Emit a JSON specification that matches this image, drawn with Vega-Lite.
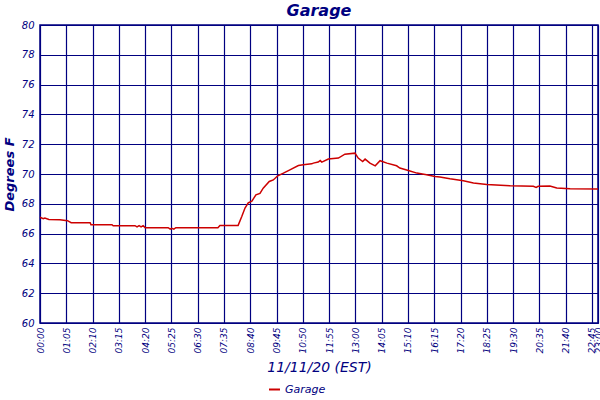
{
  "$schema": "https://vega.github.io/schema/vega-lite/v6.json",
  "autosize": {"type": "none"},
  "width": 558,
  "height": 298,
  "padding": {"left": 40, "top": 25, "right": 2, "bottom": 77},
  "background": "white",
  "title": {
    "text": "Garage",
    "font": "DejaVu Sans",
    "fontSize": 16,
    "fontStyle": "italic",
    "fontWeight": "bold",
    "color": "#000080",
    "anchor": "middle",
    "offset": 1
  },
  "config": {
    "view": {"stroke": "#000080", "strokeWidth": 1.5},
    "axis": {
      "gridColor": "#000080",
      "gridOpacity": 1,
      "gridWidth": 1.2,
      "domainColor": "#000080",
      "ticks": false,
      "labelFont": "DejaVu Sans",
      "labelFontStyle": "italic",
      "labelColor": "#000080",
      "labelFontSize": 10,
      "titleFont": "DejaVu Sans",
      "titleFontStyle": "italic",
      "titleFontWeight": "normal",
      "titleColor": "#000080",
      "titleFontSize": 14
    }
  },
  "data": {
    "values": [
      {"time": "2020-11-11T00:00", "temp": 67.1, "sensor": "Garage"},
      {"time": "2020-11-11T00:08", "temp": 67.0, "sensor": "Garage"},
      {"time": "2020-11-11T00:12", "temp": 67.05, "sensor": "Garage"},
      {"time": "2020-11-11T00:22", "temp": 66.95, "sensor": "Garage"},
      {"time": "2020-11-11T00:49", "temp": 66.93, "sensor": "Garage"},
      {"time": "2020-11-11T01:08", "temp": 66.87, "sensor": "Garage"},
      {"time": "2020-11-11T01:17", "temp": 66.73, "sensor": "Garage"},
      {"time": "2020-11-11T02:04", "temp": 66.73, "sensor": "Garage"},
      {"time": "2020-11-11T02:06", "temp": 66.6, "sensor": "Garage"},
      {"time": "2020-11-11T02:58", "temp": 66.6, "sensor": "Garage"},
      {"time": "2020-11-11T03:01", "temp": 66.53, "sensor": "Garage"},
      {"time": "2020-11-11T03:55", "temp": 66.53, "sensor": "Garage"},
      {"time": "2020-11-11T04:00", "temp": 66.45, "sensor": "Garage"},
      {"time": "2020-11-11T04:05", "temp": 66.53, "sensor": "Garage"},
      {"time": "2020-11-11T04:10", "temp": 66.45, "sensor": "Garage"},
      {"time": "2020-11-11T04:15", "temp": 66.53, "sensor": "Garage"},
      {"time": "2020-11-11T04:20", "temp": 66.4, "sensor": "Garage"},
      {"time": "2020-11-11T05:17", "temp": 66.4, "sensor": "Garage"},
      {"time": "2020-11-11T05:22", "temp": 66.3, "sensor": "Garage"},
      {"time": "2020-11-11T05:26", "temp": 66.35, "sensor": "Garage"},
      {"time": "2020-11-11T05:31", "temp": 66.3, "sensor": "Garage"},
      {"time": "2020-11-11T05:36", "temp": 66.4, "sensor": "Garage"},
      {"time": "2020-11-11T07:20", "temp": 66.4, "sensor": "Garage"},
      {"time": "2020-11-11T07:25", "temp": 66.55, "sensor": "Garage"},
      {"time": "2020-11-11T08:10", "temp": 66.55, "sensor": "Garage"},
      {"time": "2020-11-11T08:19", "temp": 67.15, "sensor": "Garage"},
      {"time": "2020-11-11T08:27", "temp": 67.72, "sensor": "Garage"},
      {"time": "2020-11-11T08:35", "temp": 68.06, "sensor": "Garage"},
      {"time": "2020-11-11T08:44", "temp": 68.18, "sensor": "Garage"},
      {"time": "2020-11-11T08:54", "temp": 68.6, "sensor": "Garage"},
      {"time": "2020-11-11T09:04", "temp": 68.7, "sensor": "Garage"},
      {"time": "2020-11-11T09:12", "temp": 69.05, "sensor": "Garage"},
      {"time": "2020-11-11T09:27", "temp": 69.5, "sensor": "Garage"},
      {"time": "2020-11-11T09:37", "temp": 69.6, "sensor": "Garage"},
      {"time": "2020-11-11T09:48", "temp": 69.88, "sensor": "Garage"},
      {"time": "2020-11-11T10:02", "temp": 70.06, "sensor": "Garage"},
      {"time": "2020-11-11T10:18", "temp": 70.28, "sensor": "Garage"},
      {"time": "2020-11-11T10:39", "temp": 70.57, "sensor": "Garage"},
      {"time": "2020-11-11T10:51", "temp": 70.62, "sensor": "Garage"},
      {"time": "2020-11-11T11:12", "temp": 70.68, "sensor": "Garage"},
      {"time": "2020-11-11T11:16", "temp": 70.73, "sensor": "Garage"},
      {"time": "2020-11-11T11:28", "temp": 70.8, "sensor": "Garage"},
      {"time": "2020-11-11T11:33", "temp": 70.9, "sensor": "Garage"},
      {"time": "2020-11-11T11:37", "temp": 70.8, "sensor": "Garage"},
      {"time": "2020-11-11T11:53", "temp": 71.0, "sensor": "Garage"},
      {"time": "2020-11-11T12:18", "temp": 71.07, "sensor": "Garage"},
      {"time": "2020-11-11T12:34", "temp": 71.33, "sensor": "Garage"},
      {"time": "2020-11-11T12:59", "temp": 71.4, "sensor": "Garage"},
      {"time": "2020-11-11T13:07", "temp": 71.07, "sensor": "Garage"},
      {"time": "2020-11-11T13:18", "temp": 70.84, "sensor": "Garage"},
      {"time": "2020-11-11T13:24", "temp": 71.0, "sensor": "Garage"},
      {"time": "2020-11-11T13:36", "temp": 70.73, "sensor": "Garage"},
      {"time": "2020-11-11T13:49", "temp": 70.55, "sensor": "Garage"},
      {"time": "2020-11-11T14:01", "temp": 70.89, "sensor": "Garage"},
      {"time": "2020-11-11T14:18", "temp": 70.73, "sensor": "Garage"},
      {"time": "2020-11-11T14:42", "temp": 70.55, "sensor": "Garage"},
      {"time": "2020-11-11T14:50", "temp": 70.4, "sensor": "Garage"},
      {"time": "2020-11-11T15:11", "temp": 70.24, "sensor": "Garage"},
      {"time": "2020-11-11T15:32", "temp": 70.06, "sensor": "Garage"},
      {"time": "2020-11-11T15:56", "temp": 69.95, "sensor": "Garage"},
      {"time": "2020-11-11T16:17", "temp": 69.83, "sensor": "Garage"},
      {"time": "2020-11-11T16:29", "temp": 69.8, "sensor": "Garage"},
      {"time": "2020-11-11T16:54", "temp": 69.68, "sensor": "Garage"},
      {"time": "2020-11-11T17:27", "temp": 69.55, "sensor": "Garage"},
      {"time": "2020-11-11T17:52", "temp": 69.4, "sensor": "Garage"},
      {"time": "2020-11-11T18:25", "temp": 69.3, "sensor": "Garage"},
      {"time": "2020-11-11T19:23", "temp": 69.21, "sensor": "Garage"},
      {"time": "2020-11-11T20:20", "temp": 69.17, "sensor": "Garage"},
      {"time": "2020-11-11T20:27", "temp": 69.1, "sensor": "Garage"},
      {"time": "2020-11-11T20:32", "temp": 69.17, "sensor": "Garage"},
      {"time": "2020-11-11T21:01", "temp": 69.2, "sensor": "Garage"},
      {"time": "2020-11-11T21:18", "temp": 69.06, "sensor": "Garage"},
      {"time": "2020-11-11T21:51", "temp": 69.01, "sensor": "Garage"},
      {"time": "2020-11-11T23:00", "temp": 69.0, "sensor": "Garage"}
    ]
  },
  "mark": {"type": "line", "strokeWidth": 1.5},
  "encoding": {
    "x": {
      "field": "time",
      "type": "temporal",
      "title": "11/11/20 (EST)",
      "scale": {
        "domain": [
          {"year": 2020, "month": 11, "date": 11, "hours": 0, "minutes": 0},
          {"year": 2020, "month": 11, "date": 11, "hours": 23, "minutes": 0}
        ],
        "nice": false
      },
      "axis": {
        "values": [
          {"year": 2020, "month": 11, "date": 11, "hours": 0, "minutes": 0},
          {"year": 2020, "month": 11, "date": 11, "hours": 1, "minutes": 5},
          {"year": 2020, "month": 11, "date": 11, "hours": 2, "minutes": 10},
          {"year": 2020, "month": 11, "date": 11, "hours": 3, "minutes": 15},
          {"year": 2020, "month": 11, "date": 11, "hours": 4, "minutes": 20},
          {"year": 2020, "month": 11, "date": 11, "hours": 5, "minutes": 25},
          {"year": 2020, "month": 11, "date": 11, "hours": 6, "minutes": 30},
          {"year": 2020, "month": 11, "date": 11, "hours": 7, "minutes": 35},
          {"year": 2020, "month": 11, "date": 11, "hours": 8, "minutes": 40},
          {"year": 2020, "month": 11, "date": 11, "hours": 9, "minutes": 45},
          {"year": 2020, "month": 11, "date": 11, "hours": 10, "minutes": 50},
          {"year": 2020, "month": 11, "date": 11, "hours": 11, "minutes": 55},
          {"year": 2020, "month": 11, "date": 11, "hours": 13, "minutes": 0},
          {"year": 2020, "month": 11, "date": 11, "hours": 14, "minutes": 5},
          {"year": 2020, "month": 11, "date": 11, "hours": 15, "minutes": 10},
          {"year": 2020, "month": 11, "date": 11, "hours": 16, "minutes": 15},
          {"year": 2020, "month": 11, "date": 11, "hours": 17, "minutes": 20},
          {"year": 2020, "month": 11, "date": 11, "hours": 18, "minutes": 25},
          {"year": 2020, "month": 11, "date": 11, "hours": 19, "minutes": 30},
          {"year": 2020, "month": 11, "date": 11, "hours": 20, "minutes": 35},
          {"year": 2020, "month": 11, "date": 11, "hours": 21, "minutes": 40},
          {"year": 2020, "month": 11, "date": 11, "hours": 22, "minutes": 45},
          {"year": 2020, "month": 11, "date": 11, "hours": 23, "minutes": 0}
        ],
        "format": "%H:%M",
        "labelAngle": -90,
        "labelAlign": "right",
        "labelBaseline": "middle",
        "labelFontSize": 9,
        "labelPadding": 4,
        "labelOverlap": false,
        "labelFlush": false,
        "titlePadding": 8
      }
    },
    "y": {
      "field": "temp",
      "type": "quantitative",
      "title": "Degrees F",
      "scale": {"domain": [60, 80], "nice": false, "zero": false},
      "axis": {
        "values": [60, 62, 64, 66, 68, 70, 72, 74, 76, 78, 80],
        "labelPadding": 6,
        "titleFontWeight": "bold",
        "titleFontSize": 13,
        "titlePadding": 5
      }
    },
    "color": {
      "field": "sensor",
      "type": "nominal",
      "scale": {"range": ["#cc0000"]},
      "legend": {
        "title": null,
        "orient": "none",
        "legendX": 228,
        "legendY": 358,
        "symbolType": "stroke",
        "symbolStrokeWidth": 2,
        "symbolSize": 120,
        "labelFont": "DejaVu Sans",
        "labelFontStyle": "italic",
        "labelColor": "#000080",
        "labelFontSize": 11
      }
    }
  }
}
